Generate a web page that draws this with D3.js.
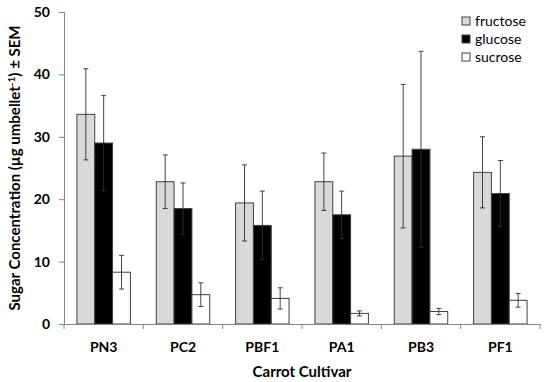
<!DOCTYPE html>
<html>
<head>
<meta charset="utf-8">
<script src="https://cdn.jsdelivr.net/npm/d3@7"></script>
<style>
  body { margin: 0; background: #fff; }
  svg text { font-family: Lato, "Open Sans", sans-serif; }
</style>
</head>
<body>
<div id="plot"></div>
<script>
// Data
var cultivars = ["PN3", "PC2", "PBF1", "PA1", "PB3", "PF1"];
var sugars = ["fructose", "glucose", "sucrose"];
var fructose = [33.6, 22.8, 19.4, 22.8, 26.9, 24.3];
var glucose = [29.0, 18.5, 15.8, 17.5, 28.0, 20.9];
var sucrose = [8.3, 4.7, 4.1, 1.7, 2.0, 3.8];
var fructoseSem = [7.3, 4.3, 6.1, 4.6, 11.5, 5.7];
var glucoseSem = [7.6, 4.1, 5.5, 3.8, 15.7, 5.3];
var sucroseSem = [2.7, 1.9, 1.7, 0.4, 0.5, 1.1];
var yTicks = [0, 10, 20, 30, 40, 50];

var fills = { fructose: "#d9d9d9", glucose: "#000000", sucrose: "#ffffff" };

var w = 550, h = 382;
var padLeft = 64, padRight = 540, padTop = 12, padBottom = 324;

var svg = d3.select("#plot").append("svg")
    .attr("width", w)
    .attr("height", h);

// build rows for drawing
var rows = [];
cultivars.forEach(function(c, i) {
  rows.push({ cultivar: c, sugar: "fructose", value: fructose[i], sem: fructoseSem[i] });
  rows.push({ cultivar: c, sugar: "glucose", value: glucose[i], sem: glucoseSem[i] });
  rows.push({ cultivar: c, sugar: "sucrose", value: sucrose[i], sem: sucroseSem[i] });
});

var xScale = d3.scaleBand()
    .domain(cultivars)
    .range([padLeft, padRight])
    .padding(0);

var xSub = d3.scaleBand()
    .domain(sugars)
    .range([0, xScale.bandwidth()])
    .paddingInner(0)
    .paddingOuter(0.725);

var yScale = d3.scaleLinear()
    .domain([0, 50])
    .range([padBottom, padTop]);

// bars
svg.selectAll(".bar")
    .data(rows)
    .enter().append("rect")
    .attr("class", "bar")
    .attr("x", function(d) { return xScale(d.cultivar) + xSub(d.sugar); })
    .attr("y", function(d) { return yScale(d.value); })
    .attr("width", xSub.bandwidth())
    .attr("height", function(d) { return yScale(0) - yScale(d.value); })
    .attr("fill", function(d) { return fills[d.sugar]; })
    .attr("stroke", "#404040")
    .attr("stroke-width", 1);

// error bars
var err = svg.selectAll(".err")
    .data(rows)
    .enter().append("g")
    .attr("class", "err")
    .attr("transform", function(d) {
      return "translate(" + (xScale(d.cultivar) + xSub(d.sugar) + xSub.bandwidth() / 2) + ",0)";
    });

err.append("line")
    .attr("x1", 0).attr("x2", 0)
    .attr("y1", function(d) { return yScale(d.value - d.sem); })
    .attr("y2", function(d) { return yScale(d.value + d.sem); })
    .attr("stroke", "#303030")
    .attr("stroke-width", 0.9);

err.append("line")
    .attr("x1", -2.5).attr("x2", 2.5)
    .attr("y1", function(d) { return yScale(d.value + d.sem); })
    .attr("y2", function(d) { return yScale(d.value + d.sem); })
    .attr("stroke", "#303030")
    .attr("stroke-width", 0.9);

err.append("line")
    .attr("x1", -2.5).attr("x2", 2.5)
    .attr("y1", function(d) { return yScale(d.value - d.sem); })
    .attr("y2", function(d) { return yScale(d.value - d.sem); })
    .attr("stroke", "#303030")
    .attr("stroke-width", 0.9);

// axes
var yAxis = d3.axisLeft(yScale)
    .tickValues(yTicks)
    .tickSize(5)
    .tickPadding(9);

var gy = svg.append("g")
    .attr("class", "axis")
    .attr("transform", "translate(" + padLeft + ",0)")
    .call(yAxis);

var xAxis = d3.axisBottom(xScale)
    .tickSize(0)
    .tickPadding(18);

var gx = svg.append("g")
    .attr("class", "axis")
    .attr("transform", "translate(0," + padBottom + ")")
    .call(xAxis);

// x ticks sit on category boundaries
gx.selectAll(".boundary")
    .data(d3.range(cultivars.length + 1))
    .enter().append("line")
    .attr("class", "boundary")
    .attr("x1", function(i) { return padLeft + i * xScale.step(); })
    .attr("x2", function(i) { return padLeft + i * xScale.step(); })
    .attr("y1", 0).attr("y2", 5)
    .attr("stroke", "#868686");

svg.selectAll(".axis path.domain").attr("stroke", "#868686");
svg.selectAll(".axis .tick line").attr("stroke", "#868686");
svg.selectAll(".axis text")
    .attr("fill", "#000")
    .style("font-size", "14px")
    .style("font-weight", "bold");
gx.selectAll("text").style("font-size", "14px");

// axis titles
svg.append("text")
    .attr("x", (padLeft + padRight) / 2)
    .attr("y", 377)
    .attr("text-anchor", "middle")
    .style("font-size", "15px")
    .style("font-weight", "bold")
    .text("Carrot Cultivar");

var ytitle = svg.append("text")
    .attr("transform", "translate(20," + ((padTop + padBottom) / 2) + ") rotate(-90)")
    .attr("text-anchor", "middle")
    .style("font-size", "15px")
    .style("font-weight", "bold");
ytitle.append("tspan").text("Sugar Concentration (µg umbellet");
ytitle.append("tspan").attr("dy", -5).style("font-size", "10px").text("-1");
ytitle.append("tspan").attr("dy", 5).text(") ± SEM");

// legend
var legend = svg.selectAll(".legend")
    .data(sugars)
    .enter().append("g")
    .attr("class", "legend")
    .attr("transform", function(d, i) { return "translate(462," + (17 + i * 18) + ")"; });

legend.append("rect")
    .attr("width", 8).attr("height", 8)
    .attr("fill", function(d) { return fills[d]; })
    .attr("stroke", "#404040");

legend.append("text")
    .attr("x", 13)
    .attr("y", 4)
    .attr("dy", "0.35em")
    .style("font-size", "14px")
    .text(function(d) { return d; });
</script>
</body>
</html>
